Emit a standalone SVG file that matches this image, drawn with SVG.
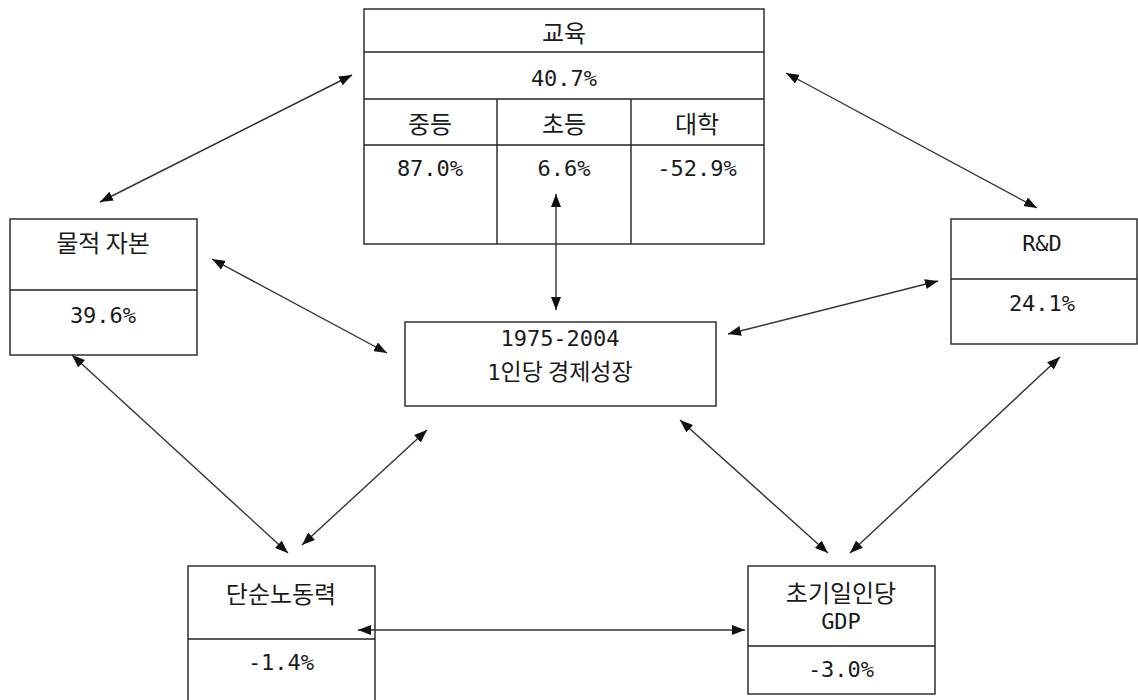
<svg xmlns="http://www.w3.org/2000/svg" width="1138" height="700" viewBox="0 0 1138 700">
<defs>
<marker id="ah" viewBox="0 0 13 10" markerWidth="13" markerHeight="10" refX="13" refY="5" orient="auto-start-reverse" markerUnits="userSpaceOnUse">
<path d="M0,0 L13,5 L0,10 z" fill="#111"/>
</marker>
<style>
rect, .div { fill: #fff; stroke: #222; stroke-width: 1.4; }
.div { fill: none; }
text { font-family: "DejaVu Sans Mono", "Noto Sans CJK KR", monospace; font-size: 22px; fill: #1a1a1a; text-anchor: middle; }
.k { font-family: "Noto Sans CJK KR", sans-serif; font-size: 24px; }
.c line { stroke: #333; stroke-width: 1.4; marker-start: url(#ah); marker-end: url(#ah); }
</style>
</defs>
<rect x="0" y="0" width="1138" height="700" style="stroke:none"/>
<g id="education">
<rect x="364" y="9" width="400" height="235"/>
<line class="div" x1="364" y1="52" x2="764" y2="52"/>
<line class="div" x1="364" y1="99" x2="764" y2="99"/>
<line class="div" x1="364" y1="145" x2="764" y2="145"/>
<line class="div" x1="497" y1="99" x2="497" y2="244"/>
<line class="div" x1="631" y1="99" x2="631" y2="244"/>
<text class="k" x="564" y="42">교육</text>
<text x="564" y="86">40.7%</text>
<text class="k" x="430" y="133">중등</text>
<text class="k" x="564" y="133">초등</text>
<text class="k" x="697" y="133">대학</text>
<text x="430" y="176">87.0%</text>
<text x="564" y="176">6.6%</text>
<text x="697" y="176">-52.9%</text>
</g>
<g id="physical">
<rect x="10" y="219" width="187" height="136"/>
<line class="div" x1="10" y1="290" x2="197" y2="290"/>
<text class="k" x="103" y="252">물적 자본</text>
<text x="103" y="323">39.6%</text>
</g>
<g id="rnd">
<rect x="951" y="219" width="186" height="125"/>
<line class="div" x1="951" y1="279" x2="1137" y2="279"/>
<text x="1042" y="251">R&amp;D</text>
<text x="1042" y="311">24.1%</text>
</g>
<g id="center">
<rect x="405" y="322" width="311" height="84"/>
<text x="560" y="346">1975-2004</text>
<text x="560" y="380">1<tspan class="k" style="font-size:23px">인당 경제성장</tspan></text>
</g>
<g id="labor">
<rect x="188" y="566" width="187" height="150"/>
<line class="div" x1="188" y1="639" x2="375" y2="639"/>
<text class="k" x="281" y="603">단순노동력</text>
<text x="281" y="670">-1.4%</text>
</g>
<g id="gdp">
<rect x="748" y="566" width="187" height="128"/>
<line class="div" x1="748" y1="646" x2="935" y2="646"/>
<text class="k" x="841" y="602">초기일인당</text>
<text x="841" y="629">GDP</text>
<text x="841" y="677">-3.0%</text>
</g>
<g id="connectors" class="c">
<line x1="100" y1="202" x2="352" y2="75"/>
<line x1="786" y1="73" x2="1037" y2="208"/>
<line x1="212" y1="259" x2="387" y2="353"/>
<line x1="556" y1="194" x2="556" y2="310"/>
<line x1="728" y1="334" x2="938" y2="281"/>
<line x1="72" y1="355" x2="288" y2="553"/>
<line x1="427" y1="430" x2="302" y2="545"/>
<line x1="680" y1="420" x2="828" y2="553"/>
<line x1="1060" y1="357" x2="850" y2="553"/>
<line x1="358" y1="630" x2="745" y2="630"/>
</g>
</svg>
